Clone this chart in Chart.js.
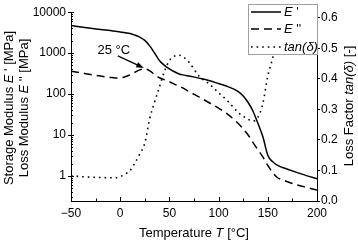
<!DOCTYPE html>
<html>
<head>
<meta charset="utf-8">
<script src="https://cdn.jsdelivr.net/npm/chart.js@4.4.1/dist/chart.umd.min.js"></script>
<style>
  html, body { margin: 0; padding: 0; background: #fff; }
</style>
</head>
<body>
<canvas id="dma" width="358" height="242"></canvas>
<script>
// temperature in °C
const temps = [-50, -40, -30, -20, -10, -5, 0, 5, 10, 15, 20, 25, 30, 35, 40, 45, 50, 55, 60, 65, 70,
  80, 90, 100, 110, 120, 125, 130, 135, 140, 145, 150, 155, 160, 165, 170, 180, 190, 200];
// E' storage modulus [MPa]
const storageMod = [4700, 4350, 4050, 3800, 3550, 3420, 3300, 3150, 3000, 2750, 2450, 2050, 1500, 1000, 650, 500, 410, 350, 310, 290, 275,
  245, 215, 180, 150, 115, 90, 62, 38, 19, 9, 3.2, 2.2, 1.8, 1.6, 1.45, 1.2, 1.0, 0.85];
// E'' loss modulus [MPa]
const lossMod = [360, 330, 300, 275, 255, 248, 250, 265, 295, 340, 390, 410, 370, 300, 250, 222, 200, 175, 155, 135, 115,
  85, 62, 45, 31, 19, 14, 10, 6.5, 4.3, 2.9, 1.8, 1.2, 0.9, 0.8, 0.72, 0.6, 0.52, 0.45];
// tan(delta)
const lossFactor = [0.083, 0.08, 0.078, 0.077, 0.076, 0.076, 0.08, 0.088, 0.10, 0.125, 0.155, 0.19, 0.27, 0.325, 0.375, 0.425, 0.46, 0.475, 0.478, 0.47, 0.455,
  0.41, 0.385, 0.355, 0.325, 0.29, 0.278, 0.268, 0.262, 0.275, 0.32, 0.41, 0.47, 0.56, 0.66, null, null, null, null];

const xTicks = [-50, -25, 0, 25, 50, 75, 100, 125, 150, 175, 200];
const logTicks = [0.3, 0.4, 0.5, 0.6, 0.7, 0.8, 0.9, 1, 2, 3, 4, 5, 6, 7, 8, 9, 10, 20, 30, 40, 50, 60, 70, 80, 90,
  100, 200, 300, 400, 500, 600, 700, 800, 900, 1000, 2000, 3000, 4000, 5000, 6000, 7000, 8000, 9000, 10000];
const tanTicks = [0, 0.1, 0.2, 0.3, 0.4, 0.5, 0.6];

const FONT = "'Liberation Sans', Arial, sans-serif";

function pts(vals) {
  return temps.map((t, i) => ({ x: t, y: vals[i] })).filter(p => p.y !== null);
}

function drawRich(ctx, parts, x, y, rot) {
  ctx.save();
  ctx.translate(x, y);
  ctx.rotate(rot);
  let total = 0;
  parts.forEach(p => { ctx.font = p[1]; total += ctx.measureText(p[0]).width; });
  let cx = -total / 2;
  ctx.textBaseline = "middle";
  ctx.textAlign = "left";
  ctx.fillStyle = "#000";
  parts.forEach(p => {
    ctx.font = p[1];
    ctx.fillText(p[0], cx, 0);
    cx += ctx.measureText(p[0]).width;
  });
  ctx.restore();
}

const extras = {
  id: "extras",
  afterDraw(chart) {
    const ctx = chart.ctx;
    const a = chart.chartArea;
    const sx = chart.scales.x, sy = chart.scales.y;
    const n = "13px " + FONT, it = "italic 13px " + FONT;

    ctx.save();
    ctx.strokeStyle = "#000";
    ctx.lineWidth = 1;
    // x ticks pointing inward
    xTicks.forEach(t => {
      const px = Math.round(sx.getPixelForValue(t)) + 0.5;
      const len = t % 50 === 0 ? 4 : 2.5;
      ctx.beginPath();
      ctx.moveTo(px, a.bottom);
      ctx.lineTo(px, a.bottom - len);
      ctx.stroke();
    });
    // left log ticks
    logTicks.forEach(v => {
      const py = Math.round(sy.getPixelForValue(v)) + 0.5;
      const major = Math.abs(Math.log10(v) % 1) < 1e-9;
      ctx.beginPath();
      ctx.moveTo(a.left - (major ? 3 : 0), py);
      ctx.lineTo(a.left + (major ? 3 : 2), py);
      ctx.stroke();
    });

    // annotation 25 °C
    const tipX = sx.getPixelForValue(25) - 1;
    const tipY = sy.getPixelForValue(410) - 1;
    const fromX = tipX - 26, fromY = tipY - 12;
    const ang = Math.atan2(tipY - fromY, tipX - fromX);
    ctx.beginPath();
    ctx.moveTo(fromX, fromY);
    ctx.lineTo(tipX - 6 * Math.cos(ang), tipY - 6 * Math.sin(ang));
    ctx.lineWidth = 1.3;
    ctx.stroke();
    ctx.beginPath();
    ctx.moveTo(tipX, tipY);
    ctx.lineTo(tipX - 8 * Math.cos(ang - 0.35), tipY - 8 * Math.sin(ang - 0.35));
    ctx.lineTo(tipX - 8 * Math.cos(ang + 0.35), tipY - 8 * Math.sin(ang + 0.35));
    ctx.closePath();
    ctx.fillStyle = "#000";
    ctx.fill();
    drawRich(ctx, [["25 °C", n]], tipX - 30, tipY - 18, 0);

    // legend
    const lx = 248, ly = 4, lw = 69, lh = 50;
    ctx.fillStyle = "#fff";
    ctx.fillRect(lx, ly, lw, lh);
    ctx.strokeStyle = "#a0a0a0";
    ctx.lineWidth = 1;
    ctx.strokeRect(lx + 0.5, ly + 0.5, lw, lh);
    const rows = [
      { y: 12, dash: [], parts: [["E", it], [" '", n]] },
      { y: 29, dash: [8, 5], parts: [["E", it], [" ''", n]] },
      { y: 47, dash: [1.6, 4], parts: [["tan(δ)", it]] }
    ];
    rows.forEach(r => {
      ctx.beginPath();
      ctx.setLineDash(r.dash);
      ctx.strokeStyle = "#000";
      ctx.lineWidth = 1.5;
      ctx.moveTo(251, r.y);
      ctx.lineTo(281, r.y);
      ctx.stroke();
      ctx.setLineDash([]);
      let w = 0;
      r.parts.forEach(p => { ctx.font = p[1]; w += ctx.measureText(p[0]).width; });
      drawRich(ctx, r.parts, 284 + w / 2, r.y, 0);
    });
    ctx.restore();

    // axis titles
    drawRich(ctx, [["Temperature ", n], ["T", it], [" [°C]", n]], (a.left + a.right) / 2, 233, 0);
    drawRich(ctx, [["Storage Modulus ", n], ["E", it], [" ' [MPa]", n]], 9, 108, -Math.PI / 2);
    drawRich(ctx, [["Loss Modulus ", n], ["E", it], [" '' [MPa]", n]], 24, 108, -Math.PI / 2);
    drawRich(ctx, [["Loss Factor ", n], ["tan(δ)", it], [" [-]", n]], 349, 106, -Math.PI / 2);
  }
};

const tickFont = { family: FONT, size: 12 };

new Chart(document.getElementById("dma").getContext("2d"), {
  type: "line",
  data: {
    datasets: [
      {
        label: "E'",
        data: pts(storageMod),
        yAxisID: "y",
        borderColor: "#000",
        borderWidth: 1.5,
        pointRadius: 0,
        cubicInterpolationMode: "monotone"
      },
      {
        label: "E''",
        data: pts(lossMod),
        yAxisID: "y",
        borderColor: "#000",
        borderWidth: 1.5,
        borderDash: [8, 5],
        pointRadius: 0,
        cubicInterpolationMode: "monotone"
      },
      {
        label: "tan(δ)",
        data: pts(lossFactor),
        yAxisID: "y2",
        borderColor: "#000",
        borderWidth: 1.6,
        borderDash: [1.6, 4],
        pointRadius: 0,
        cubicInterpolationMode: "monotone"
      }
    ]
  },
  options: {
    responsive: false,
    animation: false,
    devicePixelRatio: 1,
    layout: { padding: { top: 6, left: 0, right: 0, bottom: 0 } },
    plugins: {
      legend: { display: false },
      tooltip: { enabled: false }
    },
    scales: {
      x: {
        type: "linear",
        min: -50,
        max: 200,
        afterBuildTicks: s => { s.ticks = xTicks.map(v => ({ value: v })); },
        afterFit: s => { s.height = 41; },
        grid: { display: false, drawTicks: false, tickLength: 0 },
        border: { color: "#000", width: 1 },
        ticks: {
          autoSkip: false,
          maxRotation: 0,
          padding: 5,
          color: "#000",
          font: tickFont,
          callback: v => (v % 50 === 0 ? String(v).replace("-", "−") : "")
        }
      },
      y: {
        type: "logarithmic",
        position: "left",
        min: 0.243,
        max: 10000,
        afterBuildTicks: s => { s.ticks = logTicks.map(v => ({ value: v })); },
        afterFit: s => { s.width = 71; },
        grid: { display: false, drawTicks: false, tickLength: 0 },
        border: { color: "#000", width: 1 },
        ticks: {
          autoSkip: false,
          padding: 5,
          color: "#000",
          font: tickFont,
          callback: v => (Math.abs(Math.log10(v) % 1) < 1e-9 ? String(v) : "")
        }
      },
      y2: {
        type: "linear",
        position: "right",
        min: 0,
        max: 0.619,
        afterBuildTicks: s => { s.ticks = tanTicks.map(v => ({ value: v })); },
        afterFit: s => { s.width = 41; },
        grid: { drawOnChartArea: false, tickLength: 3, color: "#000" },
        border: { color: "#000", width: 1 },
        ticks: {
          autoSkip: false,
          padding: 1,
          color: "#000",
          font: tickFont,
          callback: v => v.toFixed(1)
        }
      }
    }
  },
  plugins: [extras]
});
</script>
</body>
</html>
